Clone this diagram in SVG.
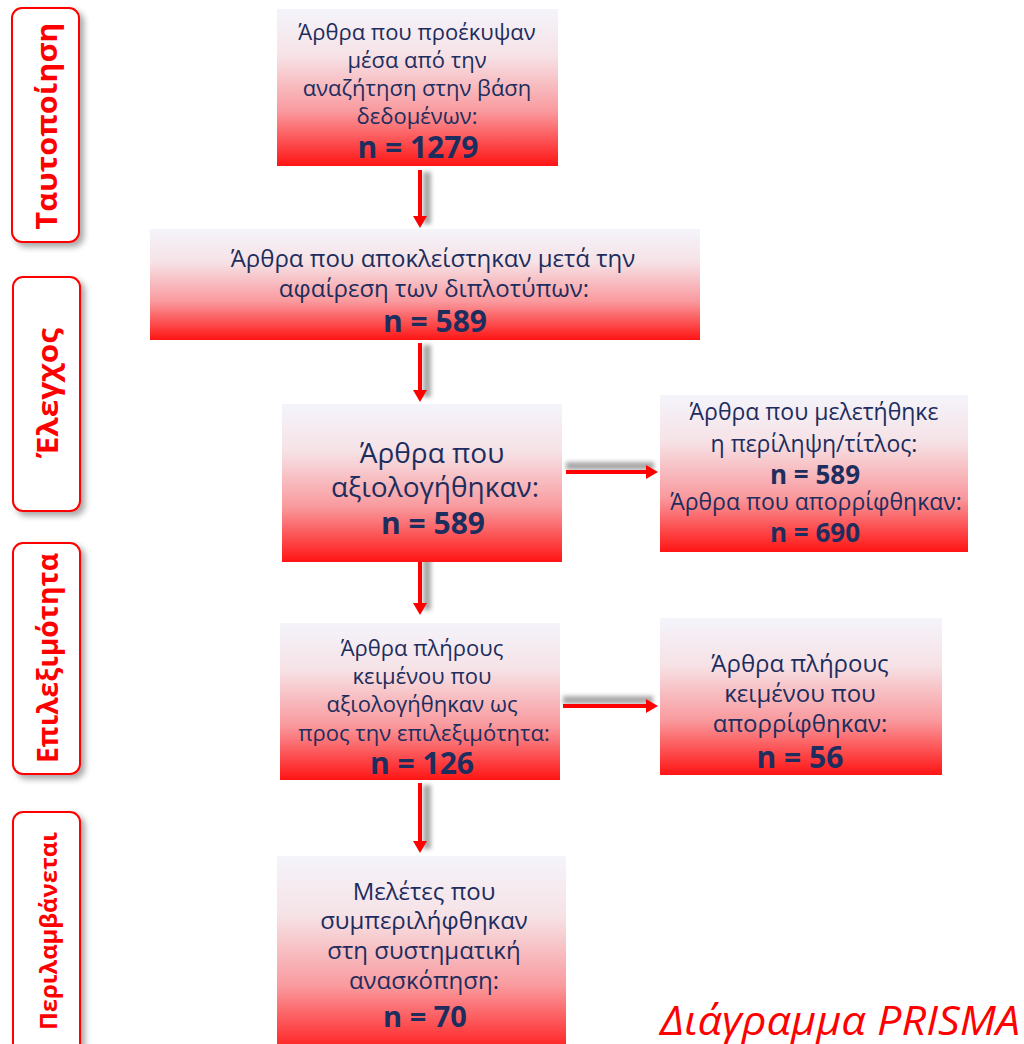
<svg xmlns="http://www.w3.org/2000/svg" width="1024" height="1044" viewBox="0 0 1024 1044">
<style>
.lbl{fill:#fff;stroke:#ff0000;stroke-width:2}
.lt{font-family:"Open Sans","Noto Sans","DejaVu Sans",sans-serif;font-weight:bold;fill:#ff0000;text-anchor:middle}
.box{fill:url(#g)}
.t{font-family:"Open Sans","Noto Sans","DejaVu Sans",sans-serif;fill:#1c2d5e;text-anchor:middle}
.n{font-weight:bold}
.ar{stroke:#ff0000;stroke-width:4;fill:none;marker-end:url(#ah)}
.sh{fill:#a8a8a8;filter:url(#blur)}
.title{font-family:"Open Sans","Noto Sans",sans-serif;font-style:italic;fill:#ff0000;font-size:41px}
</style>
<defs>
<linearGradient id="g" x1="0" y1="0" x2="0" y2="1">
<stop offset="0" stop-color="#f4f4fb"/>
<stop offset="0.3" stop-color="#f6e2e6"/>
<stop offset="0.65" stop-color="#f99a9e"/>
<stop offset="1" stop-color="#ff1414"/>
</linearGradient>
<filter id="ds" x="-20%" y="-10%" width="150%" height="130%">
<feDropShadow dx="4" dy="4" stdDeviation="3" flood-color="#000" flood-opacity="0.35"/>
</filter>
<filter id="blur" x="-50%" y="-50%" width="200%" height="200%">
<feGaussianBlur stdDeviation="2"/>
</filter>
<marker id="ah" markerWidth="4" markerHeight="3.5" refX="0" refY="1.75" orient="auto" markerUnits="strokeWidth">
<path d="M0,0 L3,1.75 L0,3.5 Z" fill="#ff0000"/>
</marker>
</defs>

<g id="stage-identification">
<rect class="lbl" x="12" y="8" width="67" height="234" rx="10" filter="url(#ds)"/>
<text class="lt" font-size="28" transform="translate(47,126) rotate(-90)" dy="0.36em" textLength="207" lengthAdjust="spacingAndGlyphs">Ταυτοποίηση</text>
</g>
<g id="stage-screening">
<rect class="lbl" x="13" y="277" width="67" height="234" rx="10" filter="url(#ds)"/>
<text class="lt" font-size="28" transform="translate(48,393) rotate(-90)" dy="0.36em" textLength="130" lengthAdjust="spacingAndGlyphs">Έλεγχος</text>
</g>
<g id="stage-eligibility">
<rect class="lbl" x="13" y="543" width="67" height="231" rx="10" filter="url(#ds)"/>
<text class="lt" font-size="28" transform="translate(48,658) rotate(-90)" dy="0.36em" textLength="210" lengthAdjust="spacingAndGlyphs">Επιλεξιμότητα</text>
</g>
<g id="stage-included">
<rect class="lbl" x="13" y="812" width="67" height="260" rx="10" filter="url(#ds)"/>
<text class="lt" font-size="24" transform="translate(48,931) rotate(-90)" dy="0.36em" textLength="198" lengthAdjust="spacingAndGlyphs">Περιλαμβάνεται</text>
</g>

<g id="connectors">
<rect class="sh" x="423" y="172" width="8" height="52"/>
<line class="ar" x1="420" y1="170" x2="420" y2="216"/>
<rect class="sh" x="423" y="345" width="8" height="52"/>
<line class="ar" x1="420" y1="343" x2="420" y2="390"/>
<rect class="sh" x="423" y="552" width="8" height="58"/>
<line class="ar" x1="420" y1="550" x2="420" y2="603"/>
<rect class="sh" x="423" y="785" width="8" height="64"/>
<line class="ar" x1="420" y1="783" x2="420" y2="841"/>
<rect class="sh" x="566" y="462" width="88" height="8"/>
<line class="ar" x1="566" y1="472" x2="646" y2="472"/>
<rect class="sh" x="563" y="696" width="90" height="8"/>
<line class="ar" x1="563" y1="706" x2="646" y2="706"/>
</g>

<g id="n1">
<rect class="box" x="277" y="9" width="281" height="157"/>
<text class="t" font-size="22"><tspan x="417" y="40">Άρθρα που προέκυψαν</tspan><tspan x="417" y="68">μέσα από την</tspan><tspan x="417" y="96">αναζήτηση στην βάση</tspan><tspan x="417" y="124">δεδομένων:</tspan><tspan x="418" y="158" class="n" font-size="30">n = 1279</tspan></text>
</g>
<g id="n2">
<rect class="box" x="150" y="229" width="550" height="111"/>
<text class="t" font-size="24"><tspan x="433" y="267">Άρθρα που αποκλείστηκαν μετά την</tspan><tspan x="434" y="297">αφαίρεση των διπλοτύπων:</tspan><tspan x="435" y="332" class="n" font-size="30">n = 589</tspan></text>
</g>
<g id="n3">
<rect class="box" x="282" y="404" width="280" height="158"/>
<text class="t" font-size="28"><tspan x="432" y="463">Άρθρα που</tspan><tspan x="435" y="497">αξιολογήθηκαν:</tspan><tspan x="433" y="534" class="n" font-size="30">n = 589</tspan></text>
</g>
<g id="n4">
<rect class="box" x="660" y="395" width="308" height="157"/>
<text class="t" font-size="23"><tspan x="814" y="420">Άρθρα που μελετήθηκε</tspan><tspan x="814" y="452">η περίληψη/τίτλος:</tspan><tspan x="815" y="484" class="n" font-size="26">n = 589</tspan><tspan x="816" y="510">Άρθρα που απορρίφθηκαν:</tspan><tspan x="815" y="542" class="n" font-size="26">n = 690</tspan></text>
</g>
<g id="n5">
<rect class="box" x="280" y="623" width="280" height="157"/>
<text class="t" font-size="22"><tspan x="422" y="656">Άρθρα πλήρους</tspan><tspan x="422" y="684">κειμένου που</tspan><tspan x="422" y="712">αξιολογήθηκαν ως</tspan><tspan x="424" y="741">προς την επιλεξιμότητα:</tspan><tspan x="422" y="774" class="n" font-size="30">n = 126</tspan></text>
</g>
<g id="n6">
<rect class="box" x="660" y="618" width="282" height="157"/>
<text class="t" font-size="24"><tspan x="800" y="672">Άρθρα πλήρους</tspan><tspan x="800" y="702">κειμένου που</tspan><tspan x="800" y="732">απορρίφθηκαν:</tspan><tspan x="800" y="768" class="n" font-size="30">n = 56</tspan></text>
</g>
<g id="n7">
<rect class="box" x="277" y="856" width="289" height="200"/>
<text class="t" font-size="24"><tspan x="424" y="900">Μελέτες που</tspan><tspan x="424" y="929">συμπεριλήφθηκαν</tspan><tspan x="424" y="959">στη συστηματική</tspan><tspan x="424" y="989">ανασκόπηση:</tspan><tspan x="425" y="1027" class="n" font-size="29">n = 70</tspan></text>
</g>

<text class="title" x="660" y="1035" textLength="360" lengthAdjust="spacingAndGlyphs">Διάγραμμα PRISMA</text>
</svg>
